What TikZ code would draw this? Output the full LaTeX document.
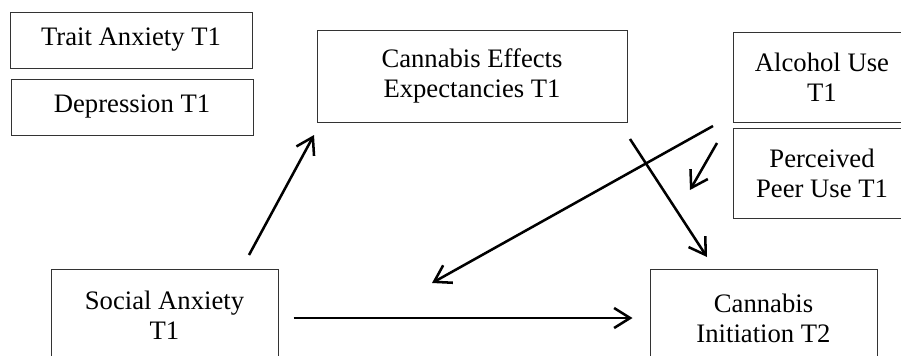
\documentclass[tikz,border=0pt]{standalone}
\usepackage{fontspec}
\setmainfont{Liberation Serif}
\usetikzlibrary{arrows.meta}

\tikzset{every picture/.style={line width=0.75pt}}
\tikzset{
  varbox/.style={draw=black!80, line width=0.75pt, align=center, inner sep=0.75pt,
    font=\fontsize{20}{22.5}\selectfont},
  patharrow/.style={line width=1.9pt, -{Straight Barb[length=12pt,width=15pt]}}
}

\begin{document}
\begin{tikzpicture}[x=0.75pt,y=0.75pt,yscale=-1.0,xscale=1.0]
    \useasboundingbox (0,0) rectangle (901,355); %set diagram to 901 x 355
    \clip (0,0) rectangle (901,355);
    
    % Text Node
    \node [varbox, minimum width=181.5pt, minimum height=42pt] (trait) at (131,40) {Trait Anxiety T1};
    % Text Node
    \node [varbox, minimum width=181.5pt, minimum height=42pt] (dep) at (132,107) {Depression T1};
    % Text Node
    \node [varbox, minimum width=232.5pt, minimum height=69pt] (cee) at (472,76) {Cannabis Effects\\Expectancies T1};
    % Text Node
    \node [varbox, minimum width=133.5pt, minimum height=67.5pt] (alc) at (822,77) {Alcohol Use\\T1};
    % Text Node
    \node [varbox, minimum width=133.5pt, minimum height=67.5pt] (peer) at (822,173) {Perceived\\Peer Use T1};
    % Text Node
    \node [varbox, minimum width=170.25pt, minimum height=69.75pt] (soc) at (164.5,315.5) {Social Anxiety\\T1};
    % Text Node
    \node [varbox, minimum width=170.25pt, minimum height=73.5pt] (ini) at (763.5,318) {Cannabis\\Initiation T2};
    
    % arrow ends
    \coordinate (socOut) at (249,255);
    \coordinate (ceeIn) at (314,135);
    \coordinate (ceeOut) at (630,139);
    \coordinate (iniIn) at (707,257);
    \coordinate (alcOut) at (713,126);
    \coordinate (socIn) at (432,283);
    \coordinate (alcOut2) at (717,143);
    \coordinate (peerIn) at (690,190);
    
    % Connection
    \draw [patharrow] (socOut) -- (ceeIn) ;
    % Connection
    \draw [patharrow] (ceeOut) -- (iniIn) ;
    % Connection
    \draw [patharrow] (alcOut) -- (socIn) ;
    % Connection
    \draw [patharrow] (alcOut2) -- (peerIn) ;
    % Connection
    \draw [patharrow, shorten <=15pt*0.75, shorten >=17pt*0.75] (soc.east |- ini.west) -- (ini.west) ;
\end{tikzpicture}
\end{document}
